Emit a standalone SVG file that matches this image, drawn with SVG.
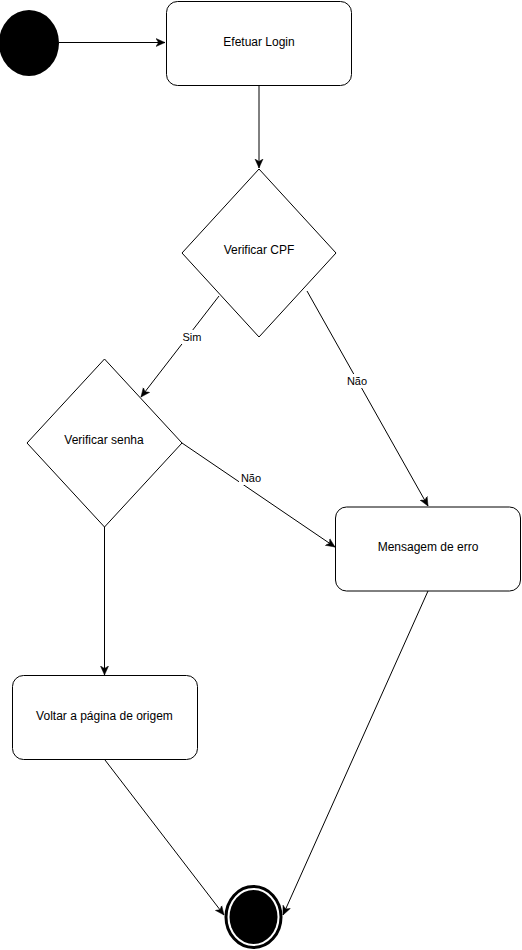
<svg xmlns="http://www.w3.org/2000/svg" width="522" height="950" viewBox="0 0 522 950">
<style>
.node{fill:#fff;stroke:#000;stroke-width:1}
.t{font-family:"Liberation Sans",Arial,sans-serif;font-size:12px;fill:#000;text-anchor:middle;dominant-baseline:central}
.lbl{font-family:"Liberation Sans",Arial,sans-serif;font-size:11px;fill:#000;text-anchor:middle;dominant-baseline:central}
.e{fill:none;stroke:#000;stroke-width:1;marker-end:url(#arr)}
</style>
<defs>
<marker id="arr" viewBox="0 0 10 10" refX="9" refY="5" markerWidth="10" markerHeight="10" markerUnits="userSpaceOnUse" orient="auto">
<path d="M0,1 L9,5 L0,9 L2.5,5 Z" fill="#000" stroke="#000" stroke-width="0.5"/>
</marker>
</defs>
<rect width="522" height="950" fill="#fff"/>
<g id="edges">
<path class="e" d="M59,42.5 L165,42.5"/>
<path class="e" d="M259,85 L259,168"/>
<path class="e" d="M219,296 L141,397"/>
<rect x="181" y="330" width="22" height="14" fill="#fff"/>
<text class="lbl" x="192" y="337">Sim</text>
<path class="e" d="M307,291 L428,506"/>
<rect x="345" y="374" width="24" height="14" fill="#fff"/>
<text class="lbl" x="357" y="381">Não</text>
<path class="e" d="M182,443 L335,547"/>
<rect x="239" y="471" width="24" height="14" fill="#fff"/>
<text class="lbl" x="251" y="478">Não</text>
<path class="e" d="M104.5,527 L104.5,675"/>
<path class="e" d="M105,760 L224,915"/>
<path class="e" d="M428,591 L283,915"/>
</g>
<g id="start">
<ellipse cx="29" cy="43" rx="30" ry="33" fill="#000"/>
</g>
<g id="login">
<rect class="node" x="166.5" y="1.5" width="185" height="84" rx="11"/>
<text class="t" x="259" y="42">Efetuar Login</text>
</g>
<g id="cpf">
<path class="node" d="M259,169 L336,253 L259,337 L182,253 Z"/>
<text class="t" x="259" y="250">Verificar CPF</text>
</g>
<g id="senha">
<path class="node" d="M104.5,359 L182,443 L104.5,527 L27,443 Z"/>
<text class="t" x="104" y="440">Verificar senha</text>
</g>
<g id="erro">
<rect class="node" x="335.5" y="507" width="185" height="84" rx="11"/>
<text class="t" x="428" y="547">Mensagem de erro</text>
</g>
<g id="voltar">
<rect class="node" x="12.5" y="675.5" width="185" height="84" rx="11"/>
<text class="t" x="104.5" y="716">Voltar a página de origem</text>
</g>
<g id="end">
<ellipse cx="253.5" cy="917" rx="27.5" ry="30.5" fill="#fff" stroke="#000" stroke-width="3"/>
<ellipse cx="253.5" cy="917" rx="24" ry="27" fill="#000"/>
</g>
</svg>
